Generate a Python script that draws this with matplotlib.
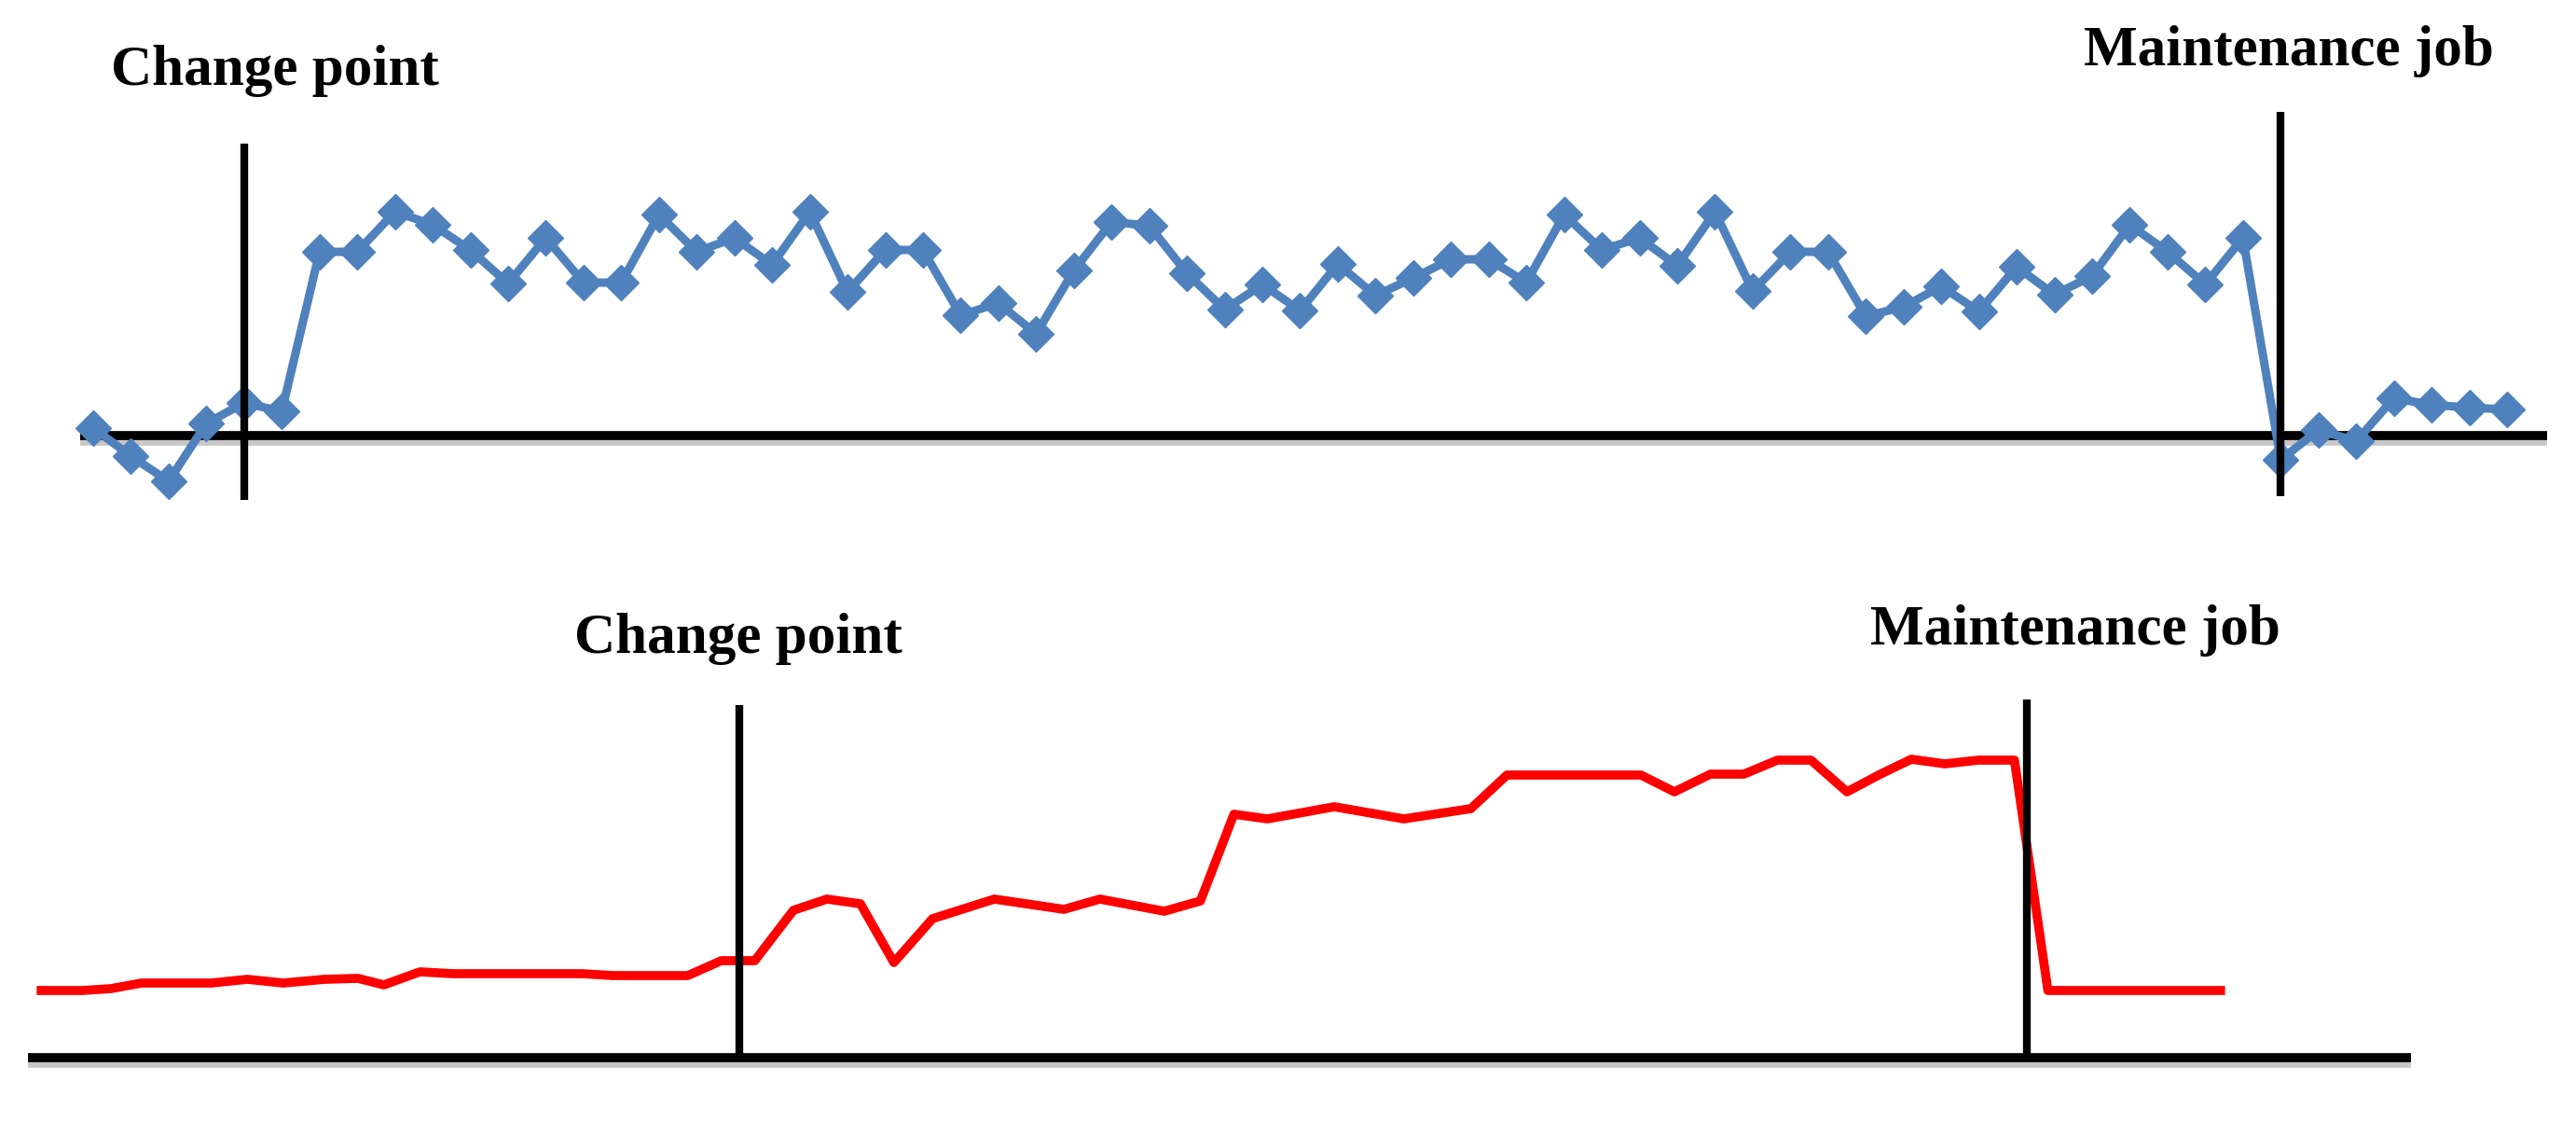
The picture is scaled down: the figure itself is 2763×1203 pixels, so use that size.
import matplotlib
matplotlib.use("Agg")
import matplotlib.pyplot as plt
import matplotlib.patheffects as pe

# top series: one value per sample, baseline = 0
blue_values = [0.8, -2.2, -4.9, 1.3, 3.5, 2.6, 19.7, 19.7, 24.0, 22.6,
               19.9, 16.3, 21.2, 16.4, 16.4, 23.7, 19.7, 21.2, 18.3, 24.0,
               15.4, 19.9, 19.9, 12.9, 14.2, 10.9, 17.7, 22.9, 22.5, 17.4,
               13.5, 16.2, 13.4, 18.4, 15.0, 16.9, 18.9, 18.9, 16.4, 23.7,
               19.9, 21.2, 18.2, 24.0, 15.5, 19.7, 19.7, 12.8, 13.8, 16.0,
               13.3, 18.1, 15.1, 17.1, 22.6, 19.7, 16.2, 21.2, -2.6, 0.6,
               -0.6, 4.0, 3.3, 3.0, 2.8]
blue_events = [4, 58]   # sample index of change point / maintenance job

# bottom series: irregular time stamps
red_t = [1.6, 3.2, 4.3, 5.5, 8.2, 9.6, 11.0, 12.6, 13.9, 14.9,
         16.3, 17.6, 22.6, 23.8, 26.7, 28.0, 29.3, 30.8, 32.1, 33.4,
         34.7, 36.2, 38.6, 41.3, 42.7, 45.2, 46.6, 47.9, 49.2, 51.8,
         54.5, 57.1, 58.5, 63.7, 65.0, 66.4, 67.7, 69.0, 70.3, 71.7,
         73.0, 74.2, 75.5, 76.8, 78.2, 79.5, 86.2]
red_v = [7.2, 7.2, 7.4, 8.0, 8.0, 8.4, 8.0, 8.4, 8.5, 7.8,
         9.2, 9.0, 9.0, 8.8, 8.8, 10.4, 10.4, 15.8, 17.0, 16.5,
         10.2, 14.9, 17.0, 15.9, 17.0, 15.7, 16.8, 26.1, 25.6, 26.9,
         25.6, 26.7, 30.3, 30.3, 28.5, 30.4, 30.4, 31.9, 31.9, 28.5,
         30.4, 32.0, 31.5, 31.9, 31.9, 7.2, 7.2]
red_events = [28.7, 78.7]

labels = ["Change point", "Maintenance job"]

W, H, DPI = 2763, 1203, 100
fig = plt.figure(figsize=(W / DPI, H / DPI), dpi=DPI)
fig.patch.set_facecolor("white")

font = dict(family="Liberation Serif", weight="bold", fontsize=44, color="black")
shadow = [pe.SimpleLineShadow(offset=(0, -4), shadow_color="black", alpha=0.22),
          pe.Normal()]

# ---- top panel
ax1 = fig.add_axes([0, 1 - 600 / H, 1, 600 / H])
ax1.set_xlim(-2.472, 65.83)
ax1.set_ylim(-13.3, 46.7)
ax1.axis("off")
ax1.hlines(0, -0.35, 65.07, color="black", lw=7, zorder=1, path_effects=shadow)
ax1.plot(range(len(blue_values)), blue_values, color="#4F81BD", lw=6.5,
         marker="D", ms=19, mec="#4F81BD", mfc="#4F81BD", zorder=2,
         solid_joinstyle="round")
ax1.vlines(blue_events[0], -6.9, 31.3, color="black", lw=6, zorder=3)
ax1.vlines(blue_events[1], -6.5, 34.7, color="black", lw=6, zorder=3)
ax1.text(blue_events[0] - 3.53, 37.6, labels[0], ha="left", va="baseline", **font)
ax1.text(blue_events[1] - 5.22, 39.7, labels[1], ha="left", va="baseline", **font)

# ---- bottom panel
ax2 = fig.add_axes([0, 0, 1, 603 / H])
ax2.set_xlim(0, 100)
ax2.set_ylim(-6.9, 53.4)
ax2.axis("off")
ax2.hlines(0, 1.1, 93.6, color="black", lw=7, zorder=1, path_effects=shadow)
ax2.plot(red_t, red_v, color="#FF0000", lw=7, zorder=2, solid_joinstyle="round")
ax2.vlines(red_events[0], -0.3, 37.8, color="black", lw=6, zorder=3)
ax2.vlines(red_events[1], 0.1, 38.4, color="black", lw=6, zorder=3)
ax2.text(red_events[0] - 6.4, 43.4, labels[0], ha="left", va="baseline", **font)
ax2.text(red_events[1] - 6.1, 44.3, labels[1], ha="left", va="baseline", **font)

fig.savefig("out.png", dpi=DPI, facecolor="white")
